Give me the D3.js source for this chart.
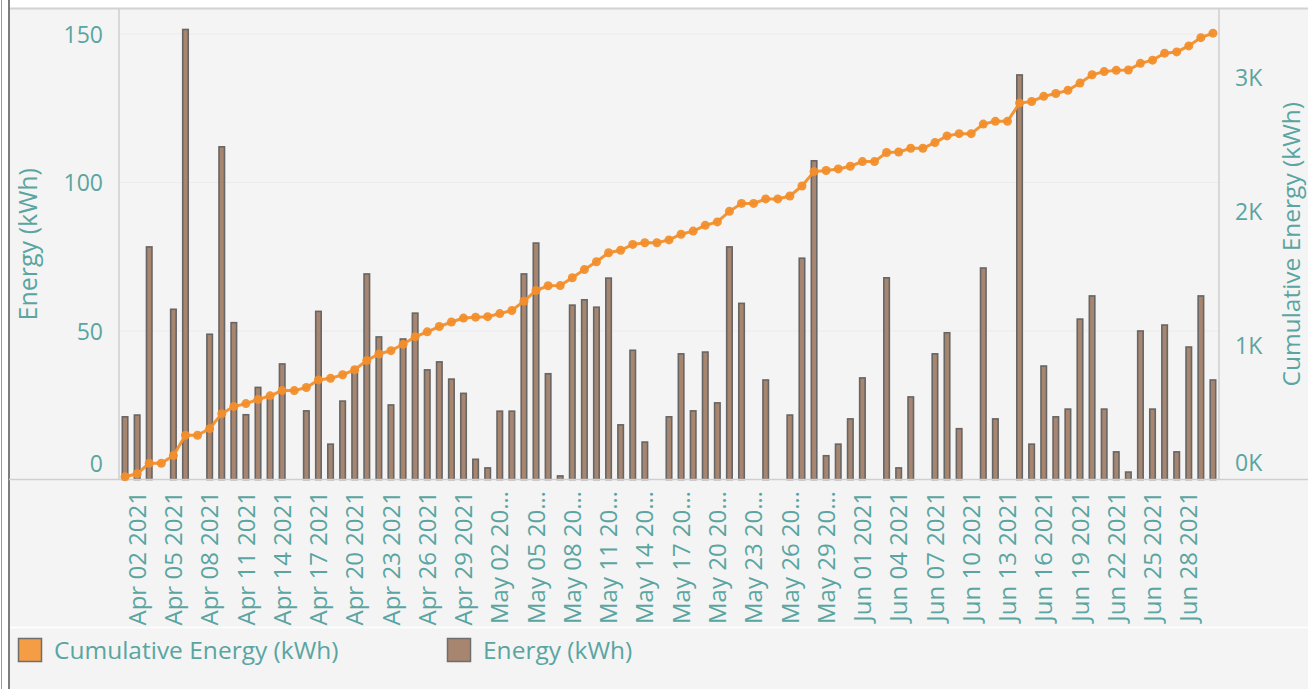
<!DOCTYPE html>
<html>
<head>
<meta charset="utf-8">
<script src="https://cdn.jsdelivr.net/npm/d3@7"></script>
<style>
  body { margin: 0; background: #fff; }
  svg { display: block; font-family: "Open Sans", sans-serif; }
</style>
</head>
<body>
<div id="chart"></div>
<script>
// daily energy, Apr 01 - Jun 30 2021
const energy = [
  21.1, 21.7, 78.3, 0, 57.3, 151.5, 0, 48.9, 112, 52.8,
  21.8, 31, 27, 38.9, 0, 23.1, 56.6, 11.9, 26.4, 37.5,
  69.2, 48, 25.1, 47.3, 56, 36.9, 39.6, 33.8, 29, 6.8,
  3.9, 23, 23, 69.2, 79.6, 35.6, 1.2, 58.7, 60.5, 58,
  67.8, 18.4, 43.5, 12.6, 0, 21.1, 42.3, 23.1, 42.9, 25.8,
  78.3, 59.3, 0, 33.5, 0, 21.7, 74.5, 107.3, 8, 11.9,
  20.4, 34.2, 0, 67.9, 3.9, 27.8, 0, 42.3, 49.4, 17.1,
  0, 71.2, 20.4, 0, 136.2, 11.9, 38.2, 21.1, 23.7, 54,
  61.8, 23.7, 9.3, 2.5, 50, 23.7, 52, 9.3, 44.6, 61.8,
  33.5
]

// running total
const cumulative = [
  21.1, 42.8, 121.1, 121.1, 178.4, 329.9, 329.9, 378.8, 490.8, 543.6,
  565.4, 596.4, 623.4, 662.3, 662.3, 685.4, 742.0, 753.9, 780.3, 817.8,
  887.0, 935.0, 960.1, 1007.4, 1063.4, 1100.3, 1139.9, 1173.7, 1202.7, 1209.5,
  1213.4, 1236.4, 1259.4, 1328.6, 1408.2, 1443.8, 1445.0, 1503.7, 1564.2, 1622.2,
  1690.0, 1708.4, 1751.9, 1764.5, 1764.5, 1785.6, 1827.9, 1851.0, 1893.9, 1919.7,
  1998.0, 2057.3, 2057.3, 2090.8, 2090.8, 2112.5, 2187.0, 2294.3, 2302.3, 2314.2,
  2334.6, 2368.8, 2368.8, 2436.7, 2440.6, 2468.4, 2468.4, 2510.7, 2560.1, 2577.2,
  2577.2, 2648.4, 2668.8, 2668.8, 2805.0, 2816.9, 2855.1, 2876.2, 2899.9, 2953.9,
  3015.7, 3039.4, 3048.7, 3051.2, 3101.2, 3124.9, 3176.9, 3186.2, 3230.8, 3292.6,
  3326.1
]

const tickLabels = [
  "Apr 02 2021", "Apr 05 2021", "Apr 08 2021", "Apr 11 2021", "Apr 14 2021",
  "Apr 17 2021", "Apr 20 2021", "Apr 23 2021", "Apr 26 2021", "Apr 29 2021",
  "May 02 20\u2026", "May 05 20\u2026", "May 08 20\u2026", "May 11 20\u2026", "May 14 20\u2026",
  "May 17 20\u2026", "May 20 20\u2026", "May 23 20\u2026", "May 26 20\u2026", "May 29 20\u2026",
  "Jun 01 2021", "Jun 04 2021", "Jun 07 2021", "Jun 10 2021", "Jun 13 2021",
  "Jun 16 2021", "Jun 19 2021", "Jun 22 2021", "Jun 25 2021", "Jun 28 2021"
]

const leftTicks = [0, 50, 100, 150]
const rightTicks = [0, 1000, 2000, 3000]

const width = 1308
const height = 689
const teal = "#5aa5a1"
const orange = "#f28e2b"
const brown = "#a7856f"

const dates = d3.timeDay.range(new Date(2021, 3, 1), new Date(2021, 6, 1))
const data = dates.map((d, i) => ({ date: d, energy: energy[i], cum: cumulative[i] }))
const labelDates = dates.filter((d, i) => i % 3 === 1)

const plot = { left: 119, right: 1219, top: 9, bottom: 479.5 }

const svg = d3.select("#chart")
  .append("svg")
  .attr("width", width)
  .attr("height", height)

// panel background + frame
svg.append("rect")
  .attr("x", 9).attr("y", 9)
  .attr("width", width - 9).attr("height", height - 9)
  .attr("fill", "#f4f4f4")
svg.append("line")
  .attr("x1", 9).attr("x2", width).attr("y1", 8.5).attr("y2", 8.5)
  .attr("stroke", "#d2d2d2").attr("stroke-width", 2)
svg.append("line")
  .attr("x1", 9).attr("x2", 9).attr("y1", 0).attr("y2", height)
  .attr("stroke", "#7d7d7d").attr("stroke-width", 2)
svg.append("line")
  .attr("x1", 1.5).attr("x2", 1.5).attr("y1", 0).attr("y2", height)
  .attr("stroke", "#9a9a9a").attr("stroke-width", 1)
svg.append("line")
  .attr("x1", 10).attr("x2", width).attr("y1", 627.5).attr("y2", 627.5)
  .attr("stroke", "#ffffff").attr("stroke-width", 1.5)

const x = d3.scaleBand()
  .domain(dates)
  .range([plot.left, plot.right])
  .padding(0)

const y = d3.scaleLinear()
  .domain([0, 158.4])
  .range([plot.bottom, plot.top])

const yCum = d3.scaleLinear()
  .domain([0, 3506])
  .range([plot.bottom, plot.top])

// gridlines
svg.append("g")
  .selectAll("line")
  .data(leftTicks.filter(d => d > 0))
  .enter()
  .append("line")
  .attr("x1", plot.left).attr("x2", plot.right)
  .attr("y1", d => y(d)).attr("y2", d => y(d))
  .attr("stroke", "#ebebeb").attr("stroke-width", 1)

// axis lines
svg.append("line")
  .attr("x1", plot.left).attr("x2", plot.left)
  .attr("y1", plot.top).attr("y2", plot.bottom)
  .attr("stroke", "#cfcfcf").attr("stroke-width", 1.5)
svg.append("line")
  .attr("x1", plot.right).attr("x2", plot.right)
  .attr("y1", plot.top).attr("y2", plot.bottom)
  .attr("stroke", "#cfcfcf").attr("stroke-width", 1.5)

// bars
const barW = 5.5
svg.append("g")
  .selectAll("rect")
  .data(data.filter(d => d.energy > 0))
  .enter()
  .append("rect")
  .attr("x", d => x(d.date) + x.bandwidth() / 2 - barW / 2)
  .attr("y", d => y(d.energy))
  .attr("width", barW)
  .attr("height", d => plot.bottom - y(d.energy))
  .attr("fill", brown)
  .attr("stroke", "#666666")
  .attr("stroke-width", 1.6)

// baseline
svg.append("line")
  .attr("x1", 9).attr("x2", width)
  .attr("y1", plot.bottom).attr("y2", plot.bottom)
  .attr("stroke", "#cfcfcf").attr("stroke-width", 1.5)

// cumulative line
const line = d3.line()
  .x(d => x(d.date) + x.bandwidth() / 2)
  .y(d => yCum(d.cum))

svg.append("path")
  .datum(data)
  .attr("d", line)
  .attr("fill", "none")
  .attr("stroke", orange)
  .attr("stroke-width", 3)
  .attr("opacity", 0.95)

svg.append("g")
  .selectAll("circle")
  .data(data)
  .enter()
  .append("circle")
  .attr("cx", d => x(d.date) + x.bandwidth() / 2)
  .attr("cy", d => yCum(d.cum))
  .attr("r", 4.5)
  .attr("fill", orange)
  .attr("opacity", 0.95)

// left axis
const leftAxis = svg.append("g")
  .attr("transform", `translate(${plot.left},0)`)
  .call(d3.axisLeft(y).tickValues(leftTicks).tickSize(0).tickPadding(16))
leftAxis.select(".domain").remove()
leftAxis.selectAll("text")
  .attr("fill", teal)
  .style("font-size", "23px")
  .style("font-family", "'Open Sans', sans-serif")
  .attr("y", d => d === 0 ? -15 : 1)

// right axis
const rightAxis = svg.append("g")
  .attr("transform", `translate(${plot.right},0)`)
  .call(d3.axisRight(yCum).tickValues(rightTicks).tickSize(0).tickPadding(16)
    .tickFormat(d => (d / 1000) + "K"))
rightAxis.select(".domain").remove()
rightAxis.selectAll("text")
  .attr("fill", teal)
  .style("font-size", "23px")
  .style("font-family", "'Open Sans', sans-serif")
  .attr("y", d => d === 0 ? -16 : 1)

// x labels
svg.append("g")
  .selectAll("text")
  .data(labelDates)
  .enter()
  .append("text")
  .attr("transform", d => `translate(${x(d) + x.bandwidth() / 2},491) rotate(-90)`)
  .attr("dy", "0.36em")
  .attr("text-anchor", "end")
  .attr("fill", teal)
  .style("font-size", "24px")
  .text((d, i) => tickLabels[i])

// axis titles
svg.append("text")
  .attr("transform", `translate(37,${(plot.top + plot.bottom) / 2}) rotate(-90)`)
  .attr("text-anchor", "middle")
  .attr("fill", teal)
  .style("font-size", "25px")
  .text("Energy (kWh)")

svg.append("text")
  .attr("transform", `translate(1300,${(plot.top + plot.bottom) / 2}) rotate(-90)`)
  .attr("text-anchor", "middle")
  .attr("fill", teal)
  .style("font-size", "24.5px")
  .text("Cumulative Energy (kWh)")

// legend
const legendItems = [
  { label: "Cumulative Energy (kWh)", color: "#f59d45", x: 18 },
  { label: "Energy (kWh)", color: brown, x: 447 }
]
const legend = svg.append("g")
  .selectAll("g")
  .data(legendItems)
  .enter()
  .append("g")
  .attr("transform", d => `translate(${d.x},638)`)
legend.append("rect")
  .attr("x", 0.5).attr("y", 0.5)
  .attr("width", 23).attr("height", 23)
  .attr("fill", d => d.color)
  .attr("stroke", "#6e6e6e").attr("stroke-width", 1.5)
legend.append("text")
  .attr("x", 36).attr("y", 12)
  .attr("dy", "0.35em")
  .attr("fill", teal)
  .style("font-size", "24.5px")
  .text(d => d.label)
</script>
</body>
</html>
